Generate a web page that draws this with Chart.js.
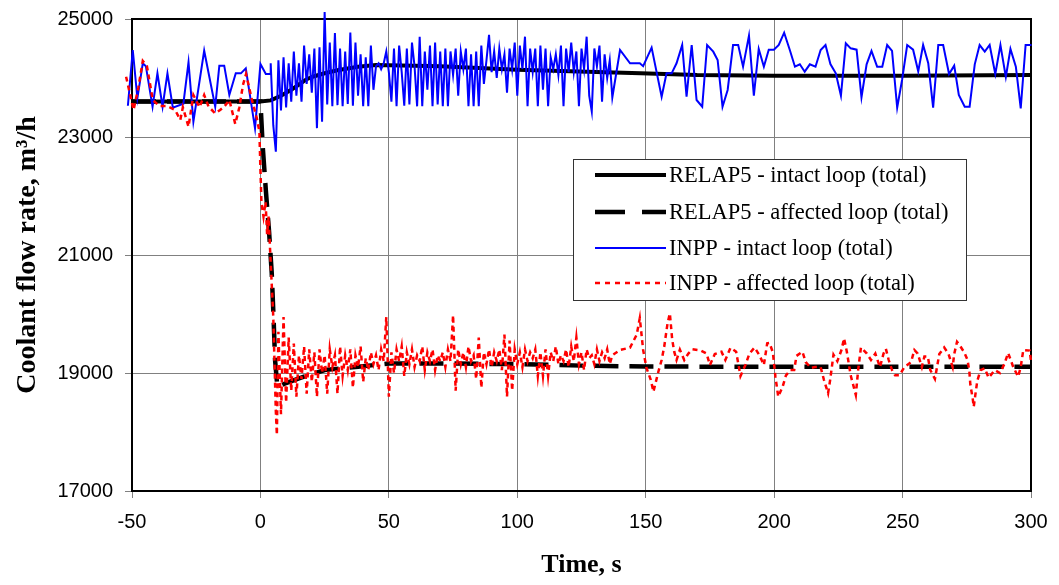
<!DOCTYPE html>
<html>
<head>
<meta charset="utf-8">
<title>Coolant flow rate</title>
<script src="https://cdn.jsdelivr.net/npm/chart.js@4.4.1/dist/chart.umd.min.js"></script>
<style>
  html, body { margin: 0; padding: 0; background: #fff; }
  #wrap { width: 1059px; height: 585px; }
</style>
</head>
<body>
<div id="wrap"><canvas id="flow-chart" width="1059" height="585"></canvas></div>
<script>
// ── Axis ticks ────────────────────────────────────────────
const xTicks = [-50, 0, 50, 100, 150, 200, 250, 300];
const yTicks = [17000, 19000, 21000, 23000, 25000];

// ── RELAP5 calculations ───────────────────────────────────
const relapIntactT = [-50, 0, 4, 8, 12, 15, 18, 21, 25, 30, 38, 45, 70, 100, 148, 170, 200, 250, 300];
const relapIntactV = [23600, 23600, 23620, 23700, 23800, 23890, 23980, 24030, 24080, 24130, 24190, 24220, 24200, 24140, 24080, 24050, 24040, 24040, 24050];

const relapAffT = [-50, 0, 0.9, 2.1, 3.4, 4.4, 5.1, 5.7, 6.6, 10, 15, 25, 38, 50, 75, 100, 125, 150, 200, 250, 300];
const relapAffV = [23600, 23600, 22836, 22100, 21373, 20695, 19954, 19220, 18760, 18830, 18910, 19050, 19107, 19160, 19160, 19150, 19125, 19110, 19105, 19105, 19105];

// ── INPP measurements, intact loop ────────────────────────
const inppIntactPreT = [-52.3, -51.6, -49.7, -47.9, -45.8, -44.6, -42, -40.1, -38.1, -36.2, -34.1, -30, -28, -26.1, -21.9, -17.6, -16, -14.1, -12.1, -9.6, -7.6, -5.7, -2.1, 0, 2.1, 3.8];
const inppIntactPreV = [23820, 23530, 24475, 23656, 24249, 24200, 23514, 24079, 23514, 24079, 23497, 23565, 24266, 23260, 24463, 23514, 24209, 24209, 23712, 24079, 24079, 24164, 23147, 24237, 24068, 24068];

// dense record, 1 s sampling from t = 4 s to t = 137 s
const inppDenseStart = 4;
const inppIntactDenseV = [
  24250, 23200, 22750, 24300, 23450, 24350, 23500, 24250, 23600, 24450,
  23700, 24250, 23600, 24550, 23900, 24400, 23750, 24500, 23150, 24520,
  23260, 25120, 23550, 24600, 23520, 24760, 23540, 24500, 23520, 24450,
  23560, 24770, 23530, 24600, 23700, 24400, 23520, 24350, 23520, 24550,
  23800, 24200, 24250, 24150, 24250, 24450, 24100, 23600, 24500, 23520,
  24550, 24100, 23530, 24500, 23550, 24600, 24200, 23520, 24700, 23520,
  24450, 23800, 24550, 23520, 24600, 23550, 24450, 23520, 24500, 23520,
  24450, 24050, 24500, 23700, 24450, 24150, 24500, 23520, 24400, 23520,
  24450, 23520, 24550, 23900, 24300, 24730, 24100, 24450, 24000, 24500,
  24150, 24400, 23750, 24500, 24150, 24600, 23700, 24550, 24150, 24700,
  23520, 24500, 24100, 24500, 23520, 24550, 23800, 24500, 23520, 24350,
  24150, 24400, 24050, 24550, 23520, 24500, 24100, 24600, 24100, 24450,
  23520, 24500, 24150, 24700, 23700, 23430, 24500, 24200, 24550, 23600,
  24400, 24000, 24300, 23670
];

const inppIntactPostT = [140, 143.9, 147.7, 149, 152.3, 156.2, 158.1, 160.1, 162, 164.2, 165.9, 167.9, 169.8, 172, 173.9, 176.3, 178, 179.9, 181.9, 184, 186, 187.9, 190.2, 192.1, 194, 196, 197.9, 199.9, 201.8, 203.9, 206.1, 208.1, 210, 211.9, 213.9, 216.1, 218.1, 220, 221.9, 224, 226, 227.9, 229.8, 232.1, 234, 236, 237.9, 240.1, 242.1, 244, 245.9, 247.9, 249.8, 251.8, 254.1, 256.1, 258, 260, 261.9, 263.9, 265.8, 268.1, 270.1, 271.9, 274.2, 276.1, 278.1, 280, 282, 283.9, 286.1, 288.1, 290.2, 292, 294.1, 296, 297.9, 300.2, 302.1, 302.8];
const inppIntactPostV = [24475, 24249, 24249, 24200, 24514, 23683, 24079, 24079, 24249, 24559, 23683, 24559, 23627, 23514, 24559, 24446, 24305, 23514, 23797, 24559, 24559, 24192, 24718, 23700, 24492, 24192, 24480, 24480, 24559, 24768, 24475, 24192, 24232, 24107, 24232, 24192, 24475, 24559, 24237, 24079, 23700, 24588, 24503, 24480, 23672, 24232, 24458, 24192, 24192, 24559, 24458, 23497, 23966, 24559, 24480, 24113, 24559, 24249, 23497, 24559, 24559, 24068, 24209, 23712, 23514, 23514, 24232, 24559, 24446, 24559, 24068, 24559, 24017, 24492, 24192, 23486, 24559, 24559, 23514, 24100];

// ── INPP measurements, affected loop ──────────────────────
const inppAffPreT = [-52.3, -49.4, -47.5, -45.8, -44.2, -41.9, -39.3, -36.4, -33.2, -31.2, -30.2, -28, -26.1, -23.7, -21.9, -20.2, -17.6, -15.7, -14.1, -12.1, -9.8, -8.2, -6.8, -5.6, -3.3, -1.4, -0.4, 0, 0.4, 1.2, 2, 2.6, 3.2, 3.8, 4.4, 5, 5.5, 6, 6.4];
const inppAffPreV = [24022, 23458, 23842, 24288, 24203, 23627, 23525, 23525, 23458, 23288, 23503, 23175, 23712, 23503, 23712, 23514, 23401, 23458, 23514, 23627, 23220, 23503, 23881, 24068, 23627, 23317, 23090, 22450, 21880, 21650, 21900, 21350, 21650, 21050, 20500, 19950, 19150, 18350, 17950];

// dense record, 1 s sampling from t = 7 s to t = 137 s
const inppAffDenseStart = 7;
const inppAffDenseV = [
  19700, 18300, 19950, 18500, 19600, 18700, 19500, 18600, 19300, 18900,
  19450, 18650, 19400, 18850, 19350, 18600, 19400, 19000, 19300, 18650,
  19400, 19100, 19300, 18650, 19450, 18950, 19300, 19050, 19400, 18750,
  19300, 19100, 19450, 18850, 19250, 19050, 19350, 19150, 19300, 19050,
  19400, 19200, 19950, 18600, 19350, 19000, 19400, 19200, 19450, 18950,
  19350, 19150, 19400, 19100, 19300, 19200, 19450, 19050, 19350, 19200,
  19400, 19050, 19300, 19200, 19350, 19100, 19400, 19200, 19980, 18700,
  19400, 19150, 19350, 19100, 19450, 19200, 19300, 18900, 19600, 18750,
  19350, 19150, 19400, 19100, 19350, 19200, 19400, 19050, 19650, 18600,
  19550, 18700, 19400, 19150, 19350, 19100, 19400, 19200, 19350, 19250,
  19400, 18950, 19350, 18950, 19400, 18950, 19350, 19200, 19450, 19150,
  19300, 19200, 19400, 19100, 19450, 19200, 19600, 19150, 19350, 19050,
  19400, 19250, 19300, 19150, 19400, 19200, 19350, 19250, 19400, 19150,
  19300
];

const inppAffPostT = [140, 143.9, 146.5, 147.7, 149, 150.3, 152, 153, 155, 156.2, 157.2, 158.5, 159.4, 160.3, 161.1, 162, 163.3, 165, 166.6, 168.2, 171.5, 173.7, 175, 176.9, 179.5, 181, 183, 185.2, 186.9, 188.8, 190.4, 192.4, 194.3, 196, 197.3, 198.2, 199.5, 200.5, 201.6, 203.3, 204.6, 206.3, 207.8, 208.7, 211, 212.3, 214.3, 215.9, 218.1, 219.4, 221, 221.8, 223.1, 224.6, 226.3, 227.2, 228.3, 229.8, 231.8, 232.7, 233.8, 236.1, 237.7, 239.4, 241.2, 242.6, 243.5, 244.6, 245.9, 247.1, 248.8, 250.7, 253.3, 254.6, 255.9, 257.5, 258.5, 259.8, 260.8, 262.6, 264.3, 266.2, 267.9, 269.5, 270.1, 271.2, 272.1, 274, 275.3, 276, 276.4, 277.3, 277.7, 278.3, 279.1, 280.4, 282, 283.5, 285.9, 287.9, 289.6, 291.1, 293.1, 295, 296, 297, 299.5, 300.1, 301.4];
const inppAffPostV = [19390, 19430, 19650, 19930, 19390, 19085, 18881, 18683, 19034, 19220, 19446, 19842, 20011, 19570, 19361, 19220, 19395, 19220, 19330, 19401, 19380, 19330, 19135, 19322, 19361, 19220, 19428, 19361, 18949, 19135, 19330, 19433, 19300, 19135, 19503, 19510, 19350, 18937, 18598, 18767, 18960, 19050, 19050, 19290, 19361, 19186, 19085, 19100, 19100, 18881, 18656, 18881, 19310, 19200, 19400, 19588, 19361, 18960, 18627, 19050, 19434, 19330, 19220, 19330, 19100, 19330, 19410, 19220, 19050, 18960, 18960, 19100, 19186, 19390, 19330, 19100, 19280, 19280, 19050, 18900, 19320, 19434, 19320, 19100, 19320, 19530, 19480, 19350, 19220, 19030, 18796, 18570, 18428, 18620, 18870, 19050, 19080, 18920, 19050, 19000, 19150, 19340, 19100, 18937, 19100, 19390, 19380, 19160, 18937];

const seriesLabels = [
  'RELAP5 - intact loop (total)',
  'RELAP5 - affected loop (total)',
  'INPP - intact loop (total)',
  'INPP - affected loop (total)'
];

// ── Helpers ───────────────────────────────────────────────
function toPoints(ts, vs) {
  return ts.map((t, i) => ({ x: t, y: vs[i] }));
}

function denseToPoints(start, vs) {
  return vs.map((v, i) => ({ x: start + i, y: v }));
}

const inppIntactPts = [
  ...toPoints(inppIntactPreT, inppIntactPreV),
  ...denseToPoints(inppDenseStart, inppIntactDenseV),
  ...toPoints(inppIntactPostT, inppIntactPostV)
];
const inppAffPts = [
  ...toPoints(inppAffPreT, inppAffPreV),
  ...denseToPoints(inppAffDenseStart, inppAffDenseV),
  ...toPoints(inppAffPostT, inppAffPostV)
];

// ── Plugins: frame + in-plot legend ───────────────────────
const framePlugin = {
  id: 'frame',
  beforeDatasetsDraw(chart) {
    const a = chart.chartArea;
    const ctx = chart.ctx;
    ctx.save();
    ctx.strokeStyle = '#000';
    ctx.lineWidth = 2;
    ctx.strokeRect(a.left, a.top, a.right - a.left, a.bottom - a.top);
    ctx.restore();
  }
};

const legendBoxPlugin = {
  id: 'legendBox',
  afterDatasetsDraw(chart) {
    const ctx = chart.ctx;
    const box = { x: 573, y: 159, w: 393, h: 141 };
    ctx.save();
    ctx.fillStyle = '#fff';
    ctx.fillRect(box.x, box.y, box.w, box.h);
    ctx.strokeStyle = '#333';
    ctx.lineWidth = 1;
    ctx.strokeRect(box.x + 0.5, box.y + 0.5, box.w, box.h);

    const rows = [175, 212, 248, 283];
    ctx.font = '22.5px "Liberation Serif", "Times New Roman", serif';
    ctx.textBaseline = 'middle';
    chart.data.datasets.forEach((ds, i) => {
      const y = rows[i];
      ctx.beginPath();
      ctx.strokeStyle = ds.borderColor;
      ctx.lineWidth = ds.borderWidth;
      ctx.setLineDash(ds.legendDash || []);
      ctx.moveTo(595, y);
      ctx.lineTo(666, y);
      ctx.stroke();
      ctx.setLineDash([]);
      ctx.fillStyle = '#000';
      ctx.fillText(ds.label, 669, y + 1);
    });
    ctx.restore();
  }
};

// ── Chart ─────────────────────────────────────────────────
const ctx = document.getElementById('flow-chart').getContext('2d');
new Chart(ctx, {
  type: 'line',
  data: {
    datasets: [
      {
        label: seriesLabels[0],
        data: toPoints(relapIntactT, relapIntactV),
        borderColor: '#000',
        borderWidth: 4,
        order: 4
      },
      {
        label: seriesLabels[1],
        data: toPoints(relapAffT, relapAffV),
        borderColor: '#000',
        borderWidth: 4.5,
        borderDash: [24, 11],
        legendDash: [30, 17],
        order: 3
      },
      {
        label: seriesLabels[2],
        data: inppIntactPts,
        borderColor: '#0000FF',
        borderWidth: 2,
        order: 2
      },
      {
        label: seriesLabels[3],
        data: inppAffPts,
        borderColor: '#FF0000',
        borderWidth: 2.5,
        borderDash: [5, 4],
        legendDash: [5, 5],
        order: 1
      }
    ]
  },
  options: {
    responsive: false,
    animation: false,
    datasets: { line: { pointRadius: 0, tension: 0, fill: false, clip: false, spanGaps: true } },
    layout: { padding: { left: 0, right: 28, top: 19, bottom: 0 } },
    plugins: {
      legend: { display: false },
      tooltip: { enabled: false }
    },
    scales: {
      x: {
        type: 'linear',
        min: xTicks[0],
        max: xTicks[xTicks.length - 1],
        afterBuildTicks: s => { s.ticks = xTicks.map(v => ({ value: v })); },
        afterFit: s => { s.height = 94; s.paddingLeft = 0; s.paddingRight = 0; },
        grid: { color: '#808080', lineWidth: 1, tickLength: 7, tickColor: '#808080' },
        border: { display: true, color: '#000', width: 2 },
        ticks: {
          color: '#000',
          padding: 12,
          maxRotation: 0,
          font: { family: '"Liberation Sans", Arial, sans-serif', size: 20 },
          callback: v => String(v)
        },
        title: {
          display: true,
          text: 'Time, s',
          color: '#000',
          padding: { top: 0, bottom: 4 },
          font: { family: '"Liberation Serif", "Times New Roman", serif', size: 26, weight: 'bold' }
        }
      },
      y: {
        type: 'linear',
        min: yTicks[0],
        max: yTicks[yTicks.length - 1],
        afterBuildTicks: s => { s.ticks = yTicks.map(v => ({ value: v })); },
        afterFit: s => { s.width = 132; s.paddingTop = 0; s.paddingBottom = 0; },
        grid: { color: '#808080', lineWidth: 1, tickLength: 7, tickColor: '#808080' },
        border: { display: true, color: '#000', width: 2 },
        ticks: {
          color: '#000',
          padding: 12,
          font: { family: '"Liberation Sans", Arial, sans-serif', size: 20 },
          callback: v => String(v)
        },
        title: {
          display: true,
          text: 'Coolant flow rate, m³/h',
          color: '#000',
          padding: { top: 11, bottom: 0 },
          font: { family: '"Liberation Serif", "Times New Roman", serif', size: 28, weight: 'bold' }
        }
      }
    }
  },
  plugins: [framePlugin, legendBoxPlugin]
});
</script>
</body>
</html>
